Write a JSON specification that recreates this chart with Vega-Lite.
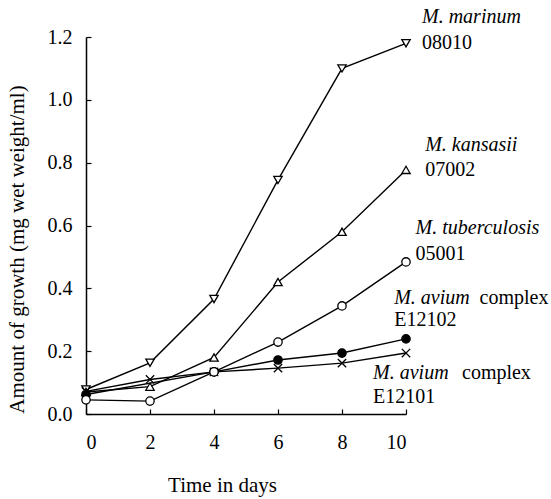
{
  "$schema": "https://vega.github.io/schema/vega-lite/v6.json",
  "autosize": {"type": "none"},
  "padding": {"left": 86, "top": 37, "right": 145, "bottom": 85},
  "width": 320,
  "height": 377,
  "background": "white",
  "config": {
    "view": {"stroke": null},
    "font": "Liberation Serif",
    "axis": {"grid": false, "domainColor": "black", "tickColor": "black", "labelColor": "black", "titleColor": "black", "domainWidth": 1.5, "tickWidth": 1.2, "labelFont": "Liberation Serif", "titleFont": "Liberation Serif", "titleFontWeight": "normal"}
  },
  "datasets": {
    "growth": [
      {"series": "marinum", "day": 0, "value": 0.078},
      {"series": "marinum", "day": 2, "value": 0.163},
      {"series": "marinum", "day": 4, "value": 0.366},
      {"series": "marinum", "day": 6, "value": 0.745},
      {"series": "marinum", "day": 8, "value": 1.10},
      {"series": "marinum", "day": 10, "value": 1.18},
      {"series": "kansasii", "day": 0, "value": 0.07},
      {"series": "kansasii", "day": 2, "value": 0.087},
      {"series": "kansasii", "day": 4, "value": 0.18},
      {"series": "kansasii", "day": 6, "value": 0.42},
      {"series": "kansasii", "day": 8, "value": 0.58},
      {"series": "kansasii", "day": 10, "value": 0.777},
      {"series": "E12102", "day": 0, "value": 0.062},
      {"series": "E12102", "day": 4, "value": 0.134},
      {"series": "E12102", "day": 6, "value": 0.172},
      {"series": "E12102", "day": 8, "value": 0.194},
      {"series": "E12102", "day": 10, "value": 0.239},
      {"series": "E12101", "day": 0, "value": 0.072},
      {"series": "E12101", "day": 2, "value": 0.11},
      {"series": "E12101", "day": 4, "value": 0.134},
      {"series": "E12101", "day": 6, "value": 0.146},
      {"series": "E12101", "day": 8, "value": 0.162},
      {"series": "E12101", "day": 10, "value": 0.194},
      {"series": "tuberculosis", "day": 0, "value": 0.045},
      {"series": "tuberculosis", "day": 2, "value": 0.041},
      {"series": "tuberculosis", "day": 4, "value": 0.134},
      {"series": "tuberculosis", "day": 6, "value": 0.229},
      {"series": "tuberculosis", "day": 8, "value": 0.344},
      {"series": "tuberculosis", "day": 10, "value": 0.484}
    ],
    "labels": [
      {"day": 10.5, "value": 1.264, "text": "M. marinum", "italic": true},
      {"day": 10.5, "value": 1.18, "text": "08010", "italic": false},
      {"day": 10.6, "value": 0.857, "text": "M. kansasii", "italic": true},
      {"day": 10.6, "value": 0.777, "text": "07002", "italic": false},
      {"day": 10.3, "value": 0.592, "text": "M. tuberculosis", "italic": true},
      {"day": 10.3, "value": 0.51, "text": "05001", "italic": false},
      {"day": 9.63, "value": 0.369, "text": "M. avium", "italic": true},
      {"day": 12.3, "value": 0.369, "text": "complex", "italic": false},
      {"day": 9.63, "value": 0.30, "text": "E12102", "italic": false},
      {"day": 8.97, "value": 0.131, "text": "M. avium", "italic": true},
      {"day": 11.75, "value": 0.131, "text": "complex", "italic": false},
      {"day": 8.97, "value": 0.054, "text": "E12101", "italic": false}
    ]
  },
  "layer": [
    {
      "data": {"name": "growth"},
      "mark": {"type": "line", "color": "black", "strokeWidth": 1.4},
      "encoding": {
        "x": {"field": "day", "type": "quantitative", "scale": {"domain": [0, 10], "nice": false},
          "axis": {"values": [0, 2, 4, 6, 8, 10], "tickSize": -5, "labelFontSize": 20, "labelPadding": 33, "labelBaseline": "middle",
            "title": "Time in days", "titleFontSize": 21, "titleX": 136, "titleY": 71, "titleBaseline": "middle", "titleAlign": "center"}},
        "y": {"field": "value", "type": "quantitative", "scale": {"domain": [0, 1.2], "nice": false},
          "axis": {"values": [0, 0.1, 0.2, 0.3, 0.4, 0.5, 0.6, 0.7, 0.8, 0.9, 1.0, 1.1, 1.2], "format": ".1f",
            "labelExpr": "round(datum.value*10) % 2 == 0 ? datum.label : ''",
            "tickSize": -5, "labelFontSize": 20, "labelPadding": 19,
            "title": "Amount of growth (mg wet weight/ml)", "titleFontSize": 21, "titleAngle": -90, "titleX": -69, "titleY": 212, "titleBaseline": "middle", "titleAlign": "center"}},
        "detail": {"field": "series"}
      }
    },
    {
      "data": {"name": "growth"},
      "mark": {"type": "point", "stroke": "black", "strokeWidth": 1.3, "opacity": 1, "filled": false},
      "encoding": {
        "x": {"field": "day", "type": "quantitative"},
        "y": {"field": "value", "type": "quantitative"},
        "shape": {"field": "series", "type": "nominal", "legend": null,
          "scale": {"domain": ["marinum", "kansasii", "tuberculosis", "E12102", "E12101"],
            "range": ["triangle-down", "triangle-up", "circle", "circle", "M-1,-1L1,1M-1,1L1,-1"]}},
        "fill": {"field": "series", "type": "nominal", "legend": null,
          "scale": {"domain": ["marinum", "kansasii", "tuberculosis", "E12102", "E12101"],
            "range": ["white", "white", "white", "black", "white"]}},
        "size": {"value": 70}
      }
    },
    {
      "data": {"name": "labels"},
      "transform": [{"filter": "datum.italic"}],
      "mark": {"type": "text", "align": "left", "baseline": "middle", "fontStyle": "italic", "fontSize": 20, "font": "Liberation Serif", "color": "black"},
      "encoding": {
        "x": {"field": "day", "type": "quantitative"},
        "y": {"field": "value", "type": "quantitative"},
        "text": {"field": "text"}
      }
    },
    {
      "data": {"name": "labels"},
      "transform": [{"filter": "!datum.italic"}],
      "mark": {"type": "text", "align": "left", "baseline": "middle", "fontSize": 20, "font": "Liberation Serif", "color": "black"},
      "encoding": {
        "x": {"field": "day", "type": "quantitative"},
        "y": {"field": "value", "type": "quantitative"},
        "text": {"field": "text"}
      }
    }
  ]
}
